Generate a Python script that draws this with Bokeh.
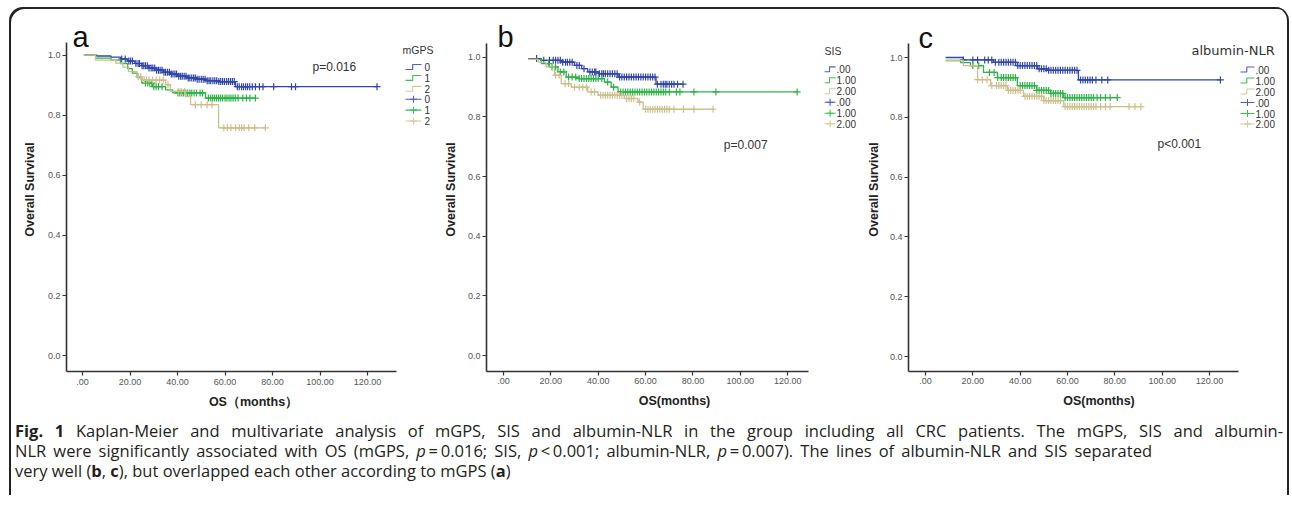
import numpy as np
from bokeh.plotting import figure
from bokeh.layouts import row, column
from bokeh.models import Div, Range1d, FixedTicker
from bokeh.embed import file_html
from bokeh.resources import INLINE
from bokeh.core.properties import value

# ---------------- data ----------------
month_ticks = [0, 20, 40, 60, 80, 100, 120]
month_tick_labels = [".00", "20.00", "40.00", "60.00", "80.00", "100.00", "120.00"]
surv_ticks = [0.0, 0.2, 0.4, 0.6, 0.8, 1.0]
surv_tick_labels = ["0.0", "0.2", "0.4", "0.6", "0.8", "1.0"]

panel_letters = ["a", "b", "c"]
legend_titles = ["mGPS", "SIS", "albumin-NLR"]
group_labels_a = ["0", "1", "2"]
group_labels_bc = [".00", "1.00", "2.00"]
p_values = ["p=0.016", "p=0.007", "p<0.001"]
x_titles = ["OS\uff08months\uff09", "OS(months)", "OS(months)"]
y_title = "Overall Survival"

# panel a : mGPS
a0_t = [1, 6, 12, 16, 19, 22, 25, 28, 31, 34, 37, 40, 44, 48, 52, 57, 64.4]
a0_s = [1.0, 0.997, 0.993, 0.987, 0.98, 0.972, 0.965, 0.957, 0.95, 0.943, 0.937, 0.93, 0.924, 0.92, 0.915, 0.912, 0.895]
a0_end = 124
a0_cens = [16.5, 18, 19.5, 20.2, 21, 22.5, 23.4, 24, 25.1, 25.8, 26.5, 27.3, 28, 28.9, 29.6, 30.4, 31.2, 32,
           32.7, 33.5, 34.3, 35, 35.8, 36.6, 37.4, 38.1, 38.9, 39.6, 40.5, 41.3, 42, 42.8, 43.6, 44.5, 45.2, 46,
           46.8, 47.5, 48.3, 49.1, 50, 50.8, 51.6, 52.5, 53.3, 54, 54.9, 55.7, 56.5, 57.4, 58.2, 59, 59.8, 60.7,
           61.5, 62.3, 63.1, 63.9, 65.2, 66, 67, 67.8, 68.7, 69.5, 70.4, 71.5, 72.8, 74.5, 76, 80.5, 88, 89.7, 124]
a1_t = [0.5, 5.5, 12, 16, 19, 21, 23, 25, 29.5, 35, 38, 51.8]
a1_s = [1.0, 0.99, 0.983, 0.972, 0.955, 0.94, 0.925, 0.907, 0.895, 0.884, 0.874, 0.857]
a1_end = 73
a1_cens = [26.5, 27.5, 28.3, 29.2, 30, 31, 32, 33.5, 40.2, 41, 41.8, 42.6, 43.5, 44.3, 45.2, 46, 47, 48, 49.5,
           50.5, 53, 54, 54.8, 55.6, 56.4, 57.3, 58.1, 59, 60, 60.8, 61.7, 62.5, 63.4, 64.3, 65.5, 67.5, 69,
           70.5, 72.8]
a2_t = [0.5, 5.5, 14, 17, 19.4, 23, 25, 35, 37, 43.4, 45.5, 57.3]
a2_s = [1.0, 0.983, 0.973, 0.96, 0.945, 0.928, 0.917, 0.901, 0.879, 0.862, 0.835, 0.758]
a2_end = 77
a2_cens = [23.5, 24.5, 26, 27, 28, 29.5, 31, 32.5, 34, 36, 40.3, 41.5, 43, 47.5, 50, 52.5, 54.5, 59.5, 61,
           62.5, 64.5, 66, 67, 68, 70, 72.5, 77]

# panel b : SIS
b0_t = [10.5, 16, 24.4, 30, 33, 35.6, 40, 48.4, 64.4]
b0_s = [0.996, 0.99, 0.984, 0.973, 0.962, 0.951, 0.945, 0.934, 0.91]
b0_end = 76
b0_cens = [14, 17, 19.4, 21, 22, 23, 24, 25, 26.2, 27, 28, 29, 31, 32, 34, 36.5, 37.5, 38.5, 39, 40.5, 41.5,
           42.2, 43, 44, 45, 46, 47, 48, 49, 50, 51, 52, 53, 54, 55, 56, 57, 58, 59, 60, 61, 62, 63, 64, 65,
           66.5, 67.5, 68.3, 69, 70, 71, 72, 73.5, 75.8]
b1_t = [10.5, 16, 19.4, 23, 26.5, 31.5, 42.6, 45.5, 48.4]
b1_s = [0.993, 0.979, 0.968, 0.951, 0.934, 0.929, 0.917, 0.9, 0.884]
b1_end = 124
b1_cens = [19, 20.5, 22, 24, 25.5, 27.5, 29, 30.5, 32, 33, 34, 35, 36, 37, 38, 39, 40, 41.5, 44, 46.5, 49.5,
           50.5, 51.5, 52.5, 53.5, 54.5, 55.5, 56.5, 57.5, 58.5, 59.5, 60.5, 61.5, 62.5, 63.5, 64.5, 65.5,
           66.5, 67.5, 68.5, 70, 73, 74.5, 80.4, 89.7, 124]
b2_t = [10.5, 14.7, 18, 21.5, 24.4, 28.6, 35.6, 40, 51, 56.8, 59]
b2_s = [0.993, 0.984, 0.968, 0.94, 0.912, 0.9, 0.884, 0.873, 0.862, 0.85, 0.826]
b2_end = 88.5
b2_cens = [22, 23.5, 26, 27.5, 30, 32, 33.5, 35, 37, 38.5, 41, 42, 43, 44, 45, 46, 47, 48, 49, 50, 52, 53,
           54, 55, 57.5, 60, 61, 62, 63, 64, 65, 66, 67, 68, 69, 70, 72, 76, 80.4, 88.5]

# panel c : albumin-NLR
c0_t = [8.5, 16, 28.7, 38.8, 47.3, 51.5, 64.6]
c0_s = [1.0, 0.992, 0.984, 0.973, 0.962, 0.957, 0.925]
c0_end = 124.6
c0_cens = [16, 20, 22, 25, 26.5, 28, 29.5, 31, 32, 33, 34, 35, 36, 37, 38, 39, 40, 41, 42, 43, 44, 45, 46,
           47, 48, 49, 50, 51, 52, 53, 54, 55, 56, 57, 58, 59, 60, 61, 62, 63, 64, 65.5, 66.5, 67.5, 68.5,
           69.5, 70.5, 72, 74.5, 77, 124.6]
c1_t = [8.5, 14.8, 19, 24.5, 30.4, 38.8, 47, 52.8, 58.4]
c1_s = [0.99, 0.983, 0.973, 0.95, 0.933, 0.906, 0.89, 0.88, 0.866]
c1_end = 81
c1_cens = [20, 22.5, 27, 29, 30.5, 32, 33, 34, 35, 36, 37, 38, 40, 41, 42, 43, 44, 45, 46, 47, 48, 49, 50,
           51, 52, 53, 54, 55, 56, 57, 58, 59, 60, 61, 62, 63, 64, 65, 66, 67, 68, 69, 70, 71, 72.5, 74, 76,
           78, 81]
c2_t = [8.5, 16, 22, 27.5, 34.6, 41.4, 50, 58.4]
c2_s = [0.99, 0.973, 0.926, 0.906, 0.89, 0.87, 0.856, 0.836]
c2_end = 91
c2_cens = [22, 24, 26, 28, 30, 31, 32, 33, 34, 35, 36, 37, 38, 39, 40, 42, 43, 44, 45, 46, 47, 48, 49, 50,
           51, 52, 53, 54, 55, 56, 57, 59, 60, 61, 62, 63, 64, 65, 66, 67, 68, 69, 70, 71, 72, 74, 76, 78,
           86, 88.5, 91]

# ---------------- styling / layout ----------------
COLORS = ["#3246a8", "#2db446", "#cdbf8c"]
LEG_COLORS = ["#4a62c8", "#3cbf52", "#d6ca9c"]
FONT = "Liberation Sans"
MARGIN_TOP, MARGIN_LEFT = 7, 9
FIG_TOP = MARGIN_TOP                   # page y of figures' top edge
FIG_H = 414

GEOM = [
    dict(left=9, width=431, axis_x=66, x0=82, xppu=2.375, axis_end=396, y0=358, yppu=303, xaxis_y=374, ytop=42,
         letter_x=72, p_xy=(312, 67), title_xy=(402, 50), items_y=[67, 78, 89, 99.5, 110.5, 121.5],
         icon_x=(405, 421), text_x=424, title_font=FONT, title_size="10.5px", xstand=3, ystand=8),
    dict(left=440, width=422, axis_x=485, x0=502, xppu=2.375, axis_end=808, y0=356, yppu=299, xaxis_y=372, ytop=43,
         letter_x=496, p_xy=(723, 145), title_xy=(824, 51), items_y=[69, 80, 91, 102, 113, 123.5],
         icon_x=(824, 835), text_x=836, title_font=FONT, title_size="10.5px", xstand=2, ystand=7),
    dict(left=862, width=427, axis_x=908, x0=925, xppu=2.367, axis_end=1238, y0=356, yppu=299, xaxis_y=371, ytop=43,
         letter_x=918, p_xy=(1157, 143), title_xy=(1191, 50), items_y=[69, 80, 91, 102, 113, 123.5],
         icon_x=(1240, 1254), text_x=1255, title_font="DejaVu Sans", title_size="13px", xstand=2, ystand=6),
]

panels = [
    [(a0_t, a0_s, a0_end, a0_cens), (a1_t, a1_s, a1_end, a1_cens), (a2_t, a2_s, a2_end, a2_cens)],
    [(b0_t, b0_s, b0_end, b0_cens), (b1_t, b1_s, b1_end, b1_cens), (b2_t, b2_s, b2_end, b2_cens)],
    [(c0_t, c0_s, c0_end, c0_cens), (c1_t, c1_s, c1_end, c1_cens), (c2_t, c2_s, c2_end, c2_cens)],
]


def make_panel(i):
    g = GEOM[i]
    X = lambda px: (px - g["x0"]) / g["xppu"]
    Y = lambda py: (g["y0"] - py) / g["yppu"]
    xr = Range1d(X(g["axis_x"]), X(g["left"] + g["width"]))
    yr = Range1d(Y(g["xaxis_y"]), Y(FIG_TOP))
    p = figure(width=g["width"], height=FIG_H, x_range=xr, y_range=yr,
               output_backend="svg", toolbar_location=None,
               min_border_left=g["axis_x"] - g["left"], min_border_right=0,
               min_border_top=0, min_border_bottom=FIG_TOP + FIG_H - g["xaxis_y"])
    p.outline_line_color = None
    p.grid.visible = False
    p.background_fill_color = None
    p.border_fill_color = None

    for ax in (p.xaxis[0], p.yaxis[0]):
        ax.axis_line_color = "#333333"
        ax.axis_line_width = 1.6
        ax.major_tick_line_color = "#333333"
        ax.major_tick_line_width = 1.2
        ax.major_tick_out = 4
        ax.major_tick_in = 0
        ax.minor_tick_line_color = None
        ax.major_label_text_font = FONT
        ax.major_label_text_font_size = "9px"
        ax.major_label_text_color = "#555555"
        ax.axis_label_text_font = FONT
        ax.axis_label_text_font_size = "12.5px"
        ax.axis_label_text_font_style = "bold"
        ax.axis_label_text_color = "#222222"

    p.xaxis.ticker = FixedTicker(ticks=month_ticks)
    p.xaxis.major_label_overrides = dict(zip(month_ticks, month_tick_labels))
    p.xaxis.bounds = (xr.start, X(g["axis_end"]))
    p.xaxis.axis_label = x_titles[i]
    p.xaxis.major_label_standoff = g["xstand"]
    p.xaxis.axis_label_standoff = 7

    p.yaxis.ticker = FixedTicker(ticks=surv_ticks)
    p.yaxis.major_label_overrides = dict(zip(surv_ticks, surv_tick_labels))
    p.yaxis.bounds = (yr.start, Y(g["ytop"]))
    p.yaxis.axis_label = y_title
    p.yaxis.major_label_standoff = 2
    p.yaxis.axis_label_standoff = g["ystand"]

    # curves + censor marks
    for k, (t, s, end, cens) in enumerate(panels[i]):
        xs = list(t) + [end]
        ys = list(s) + [s[-1]]
        p.step(xs, ys, mode="after", line_color=COLORS[k], line_width=1.3)
        ta = np.asarray(t)
        sa = np.asarray(s)
        idx = np.searchsorted(ta, np.asarray(cens), side="right") - 1
        idx = np.clip(idx, 0, len(sa) - 1)
        p.scatter(cens, sa[idx], marker="cross", size=7, line_color=COLORS[k], line_width=1.2)

    # panel letter
    p.text([X(g["letter_x"])], [Y(37)], text=[panel_letters[i]], text_font=value(FONT),
           text_font_size="29px", text_color="#111111", text_align="left", text_baseline="middle")
    # p-value
    p.text([X(g["p_xy"][0])], [Y(g["p_xy"][1])], text=[p_values[i]], text_font=value(FONT),
           text_font_size="12px", text_color="#333333", text_align="left", text_baseline="middle")

    # legend
    p.text([X(g["title_xy"][0])], [Y(g["title_xy"][1])], text=[legend_titles[i]],
           text_font=value(g["title_font"]), text_font_size=g["title_size"], text_color="#333333",
           text_align="left", text_baseline="middle")
    labels = group_labels_a if i == 0 else group_labels_bc
    xa, xb = g["icon_x"]
    for k in range(3):
        yc = g["items_y"][k]
        xm = xa + (xb - xa) * 0.45
        p.line([X(xa), X(xm), X(xm), X(xb)], [Y(yc + 2.5), Y(yc + 2.5), Y(yc - 2.5), Y(yc - 2.5)],
               line_color=LEG_COLORS[k], line_width=1.1)
        p.text([X(g["text_x"])], [Y(yc)], text=[labels[k]], text_font=value(FONT),
               text_font_size="10px", text_color="#333333", text_align="left", text_baseline="middle")
    for k in range(3):
        yc = g["items_y"][k + 3]
        p.line([X(xa), X(xb)], [Y(yc), Y(yc)], line_color=LEG_COLORS[k], line_width=1.1)
        p.scatter([X((xa + xb) / 2)], [Y(yc)], marker="cross", size=7, line_color=LEG_COLORS[k], line_width=1.1)
        p.text([X(g["text_x"])], [Y(yc)], text=[labels[k]], text_font=value(FONT),
               text_font_size="10px", text_color="#333333", text_align="left", text_baseline="middle")
    return p


figs = [make_panel(i) for i in range(3)]

line_style = "white-space:nowrap; text-align:justify; text-align-last:justify;"
caption_html = (
    '<div style="font-family:\'Open Sans\'; font-size:16.5px; line-height:20px; color:#231f20; '
    'padding:0 0 0 6px;">'
    '<div style="width:1268px; ' + line_style + '">'
    '<b>Fig. 1</b> Kaplan-Meier and multivariate analysis of mGPS, SIS and albumin-NLR in the group '
    'including all CRC patients. The mGPS, SIS and albumin-</div>'
    '<div style="width:1137px; ' + line_style + '">'
    'NLR were significantly associated with OS (mGPS, <i>p</i>&thinsp;=&thinsp;0.016; SIS, '
    '<i>p</i>&thinsp;&lt;&thinsp;0.001; albumin-NLR, <i>p</i>&thinsp;=&thinsp;0.007). The lines of '
    'albumin-NLR and SIS separated</div>'
    '<div style="white-space:nowrap;">'
    'very well (<b>b</b>, <b>c</b>), but overlapped each other according to mGPS (<b>a</b>)</div>'
    '</div>'
)
caption = Div(text=caption_html, width=1280, height=74, margin=(0, 0, 0, 0))

layout = column(row(*figs, spacing=0), caption, spacing=0,
                margin=(MARGIN_TOP, 0, 0, MARGIN_LEFT),
                styles={"box-shadow": "inset 2px 2px 0 0 #222, inset -2px 0 0 0 #222",
                        "border-radius": "14px 14px 0 0"})

open("out.html", "w").write(file_html(layout, INLINE))
